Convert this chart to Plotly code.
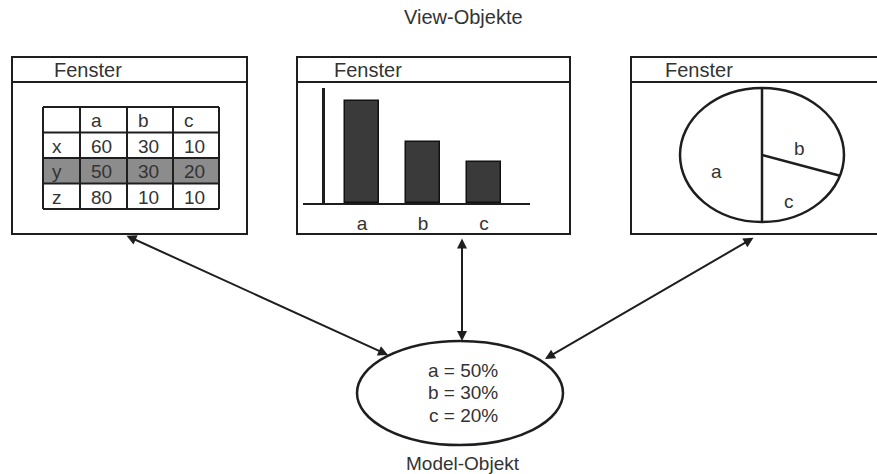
import math
import plotly.graph_objects as go

# ---------------- data ----------------
categories = ["a", "b", "c"]
model_values = [50, 30, 20]          # percent, model object
table_rows = ["x", "y", "z"]
table_values = [[60, 30, 10],
                [50, 30, 20],
                [80, 10, 10]]
highlight_row = "y"
window_titles = ["Fenster", "Fenster", "Fenster"]
view_title = "View-Objekte"
model_title = "Model-Objekt"

# ---------------- style / layout constants ----------------
W, H = 877, 474
LINE = "#1e1e1e"
TXT = "#333333"
FONT = "Liberation Sans, Arial, sans-serif"
FS = 19

fig = go.Figure()
shapes = []
annots = []


def px_line(x0, y0, x1, y1, w=2, color=LINE):
    shapes.append(dict(type="line", xref="x", yref="y", x0=x0, y0=y0, x1=x1, y1=y1,
                       line=dict(color=color, width=w)))


def text(x, y, s, size=FS, xanchor="center"):
    annots.append(dict(x=x, y=y, xref="x", yref="y", text=s, showarrow=False,
                       xanchor=xanchor, yanchor="middle",
                       font=dict(family=FONT, size=size, color=TXT)))


# ---- windows ----
win_top, win_sep, win_bot = 57, 82, 234
windows = [(12, 247, 52), (297, 570, 332), (631, 890, 663)]
for (x0, x1, tx), title in zip(windows, window_titles):
    shapes.append(dict(type="rect", xref="x", yref="y", x0=x0, y0=win_top, x1=x1, y1=win_bot,
                       line=dict(color=LINE, width=2), fillcolor="white", layer="below"))
    px_line(x0, win_sep, x1, win_sep)
    text(tx, 70, title, size=20, xanchor="left")

text(463, 17, view_title, size=20)

# ---- table (window 1) ----
col_edges = [43, 80, 127, 173, 219]
row_h = 25.5
tab_top = 107
n_rows = len(table_rows) + 1
row_edges = [tab_top + i * row_h for i in range(n_rows + 1)]

hi = table_rows.index(highlight_row) + 1
shapes.append(dict(type="rect", xref="x", yref="y", x0=col_edges[0], x1=col_edges[-1],
                   y0=row_edges[hi], y1=row_edges[hi + 1], fillcolor="#8c8c8c",
                   line=dict(width=0), layer="below"))
for xe in col_edges:
    px_line(xe, row_edges[0], xe, row_edges[-1])
for ye in row_edges:
    px_line(col_edges[0], ye, col_edges[-1], ye)

header = [""] + categories
grid = [header] + [[r] + [str(v) for v in vals] for r, vals in zip(table_rows, table_values)]
for ri, row in enumerate(grid):
    yc = (row_edges[ri] + row_edges[ri + 1]) / 2 + 1
    for ci, cell in enumerate(row):
        if cell:
            pad = 7 if ci == 0 else 9
            text(col_edges[ci] + pad, yc, cell, xanchor="left")

# ---- bar chart (window 2) ----
bx0, bx1 = 303, 530
by_base, by_top = 203, 88
unit_px = 61
first_center = 362
fig.add_trace(go.Bar(
    x=list(range(len(categories))), y=model_values, xaxis="x2", yaxis="y2",
    width=0.57, marker=dict(color="#3a3a3a", line=dict(color="#111111", width=1.5)),
    hoverinfo="skip", showlegend=False))

# ---- pie (window 3) ----
cx, cy, rx, ry = 762, 155, 82, 67
shapes.append(dict(type="circle", xref="x", yref="y", x0=cx - rx, x1=cx + rx,
                   y0=cy - ry, y1=cy + ry, line=dict(color=LINE, width=2.5)))
# clockwise from 12 o'clock: b, c, then a
pie_order = ["b", "c", "a"]
total = sum(model_values)
cum = 0.0
for name in pie_order:
    frac = model_values[categories.index(name)] / total
    t0 = cum
    t1 = cum + frac
    ang = 2 * math.pi * t0
    px_line(cx, cy, cx + rx * math.sin(ang), cy - ry * math.cos(ang), w=2.5)
    mid = 2 * math.pi * (t0 + t1) / 2
    text(cx + 0.56 * rx * math.sin(mid), cy - 0.56 * ry * math.cos(mid) + 16, name)
    cum = t1

# ---- model ellipse ----
mx, my, mrx, mry = 460, 393, 103, 52
shapes.append(dict(type="circle", xref="x", yref="y", x0=mx - mrx, x1=mx + mrx,
                   y0=my - mry, y1=my + mry, line=dict(color=LINE, width=2.5)))
for i, (c, v) in enumerate(zip(categories, model_values)):
    text(mx + 3, 370 + i * 22.5, f"{c} = {v}%")
text(463, 463, model_title)

# ---- double arrows ----
arrows = [((125, 235), (388, 355)), ((462, 237), (462, 341)), ((755, 237), (545, 359))]
for (x0, y0), (x1, y1) in arrows:
    annots.append(dict(x=x1, y=y1, ax=x0, ay=y0, xref="x", yref="y", axref="x", ayref="y",
                       text="", showarrow=True, arrowside="end+start", arrowhead=2,
                       arrowsize=1, arrowwidth=2, arrowcolor=LINE))

fig.update_layout(
    width=W, height=H, margin=dict(l=0, r=0, t=0, b=0),
    paper_bgcolor="white", plot_bgcolor="rgba(0,0,0,0)",
    showlegend=False, shapes=shapes, annotations=annots,
    xaxis=dict(range=[0, W], visible=False, domain=[0, 1], fixedrange=True),
    yaxis=dict(range=[H, 0], visible=False, domain=[0, 1], fixedrange=True),
    xaxis2=dict(domain=[bx0 / W, bx1 / W], anchor="y2",
                range=[(bx0 - first_center) / unit_px, (bx1 - first_center) / unit_px],
                tickvals=list(range(len(categories))), ticktext=categories,
                showline=True, linecolor=LINE, linewidth=2, showgrid=False, zeroline=False,
                ticks="", ticklabelstandoff=2,
                tickfont=dict(family=FONT, size=FS, color=TXT), fixedrange=True),
    yaxis2=dict(domain=[1 - by_base / H, 1 - by_top / H], anchor="free", position=323 / W,
                range=[0, model_values[0] * (by_base - by_top) / 102],
                showline=True, linecolor=LINE, linewidth=2.5, showgrid=False, zeroline=False,
                showticklabels=False, ticks="", fixedrange=True),
    bargap=0,
)

fig.write_html("out.html", config={"displayModeBar": False},
               post_script="document.body.style.margin='0';document.body.style.overflow='hidden';")
